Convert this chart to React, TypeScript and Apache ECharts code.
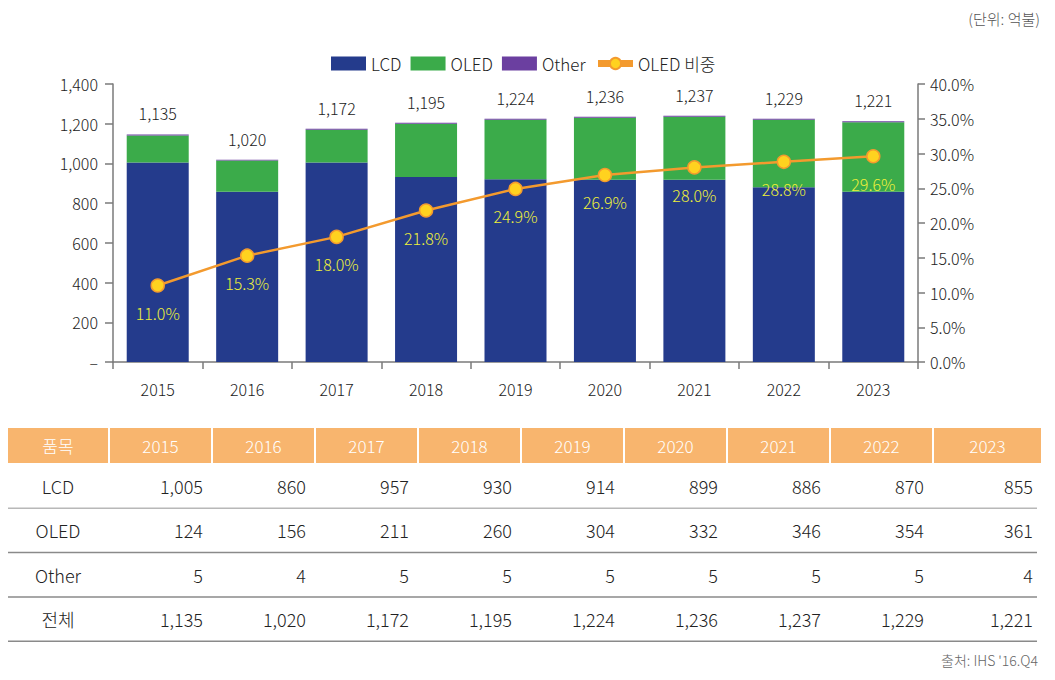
import React, { useEffect, useRef } from "react";
import * as echarts from "echarts";

const years = ["2015", "2016", "2017", "2018", "2019", "2020", "2021", "2022", "2023"];
// values as drawn by the bars in the picture
const lcdBar = [1005, 858, 1005, 932, 920, 918, 918, 880, 858];
const oledBar = [136, 157, 165, 268, 300, 312, 317, 340, 350];
const otherBar = [5, 4, 5, 5, 5, 5, 5, 5, 4];
// table values
const lcdTable = [1005, 860, 957, 930, 914, 899, 886, 870, 855];
const oledTable = [124, 156, 211, 260, 304, 332, 346, 354, 361];
const otherTable = [5, 4, 5, 5, 5, 5, 5, 5, 4];
const totalTable = [1135, 1020, 1172, 1195, 1224, 1236, 1237, 1229, 1221];
const oledShare = [11.0, 15.3, 18.0, 21.8, 24.9, 26.9, 28.0, 28.8, 29.6];
const rowNames = ["LCD", "OLED", "Other", "전체"];
const headerFirst = "품목";

const FONT = "'Noto Sans CJK KR', 'Noto Sans', sans-serif";
const FW = 300;
const fmt = (v: number) => v.toLocaleString("en-US");

function txt(x: number, y: number, text: string, fill: string, size: number, align: string) {
  return {
    type: "text",
    x,
    y,
    style: {
      text,
      fill,
      fontSize: size,
      fontFamily: FONT,
      fontWeight: FW,
      align,
      verticalAlign: "middle",
      textAlign: align,
      textVerticalAlign: "middle",
    },
  };
}

function buildTable() {
  const els: any[] = [];
  const x0 = 8;
  const firstW = 100;
  const colStart = 110;
  const colW = 103;
  const hy = 428;
  const hh = 35;
  const header = "#f8b56e";
  els.push({ type: "rect", shape: { x: x0, y: hy, width: firstW, height: hh }, style: { fill: header } });
  els.push(txt(x0 + firstW / 2, hy + hh / 2, headerFirst, "#fff", 17, "center"));
  years.forEach((y, i) => {
    const cx = colStart + i * colW;
    const w = i === years.length - 1 ? 107 : colW - 2;
    els.push({ type: "rect", shape: { x: cx, y: hy, width: w, height: hh }, style: { fill: header } });
    els.push(txt(cx + w / 2, hy + hh / 2, y, "#fff", 17, "center"));
  });
  const rows = [lcdTable, oledTable, otherTable, totalTable];
  const rowTop = 464;
  const rowH = 44.3;
  rows.forEach((vals, r) => {
    const cy = rowTop + r * rowH + rowH / 2;
    els.push(txt(x0 + firstW / 2, cy, rowNames[r], "#222", 18, "center"));
    vals.forEach((v, i) => {
      const right = colStart + i * colW + (i === years.length - 1 ? 107 : colW - 2) - 8;
      els.push(txt(right, cy, fmt(v), "#222", 18, "right"));
    });
    const ly = rowTop + (r + 1) * rowH;
    els.push({
      type: "line",
      shape: { x1: x0, y1: ly, x2: 1037, y2: ly },
      style: { stroke: r === 0 ? "#b8b8b8" : "#8a8a8a", lineWidth: 1.5 },
    });
  });
  els.push(txt(1038, 660, "출처: IHS '16.Q4", "#666", 14, "right"));
  els.push(txt(1040, 18, "(단위: 억불)", "#555", 15, "right"));
  return els;
}

export default function App() {
  const ref = useRef<HTMLDivElement>(null);
  useEffect(() => {
    if (!ref.current) return;
    const chart = echarts.init(ref.current, null, { renderer: "svg" });
    const axisColor = "#7a7a7a";
    chart.setOption({
      animation: false,
      backgroundColor: "#fff",
      textStyle: { fontFamily: FONT, fontWeight: FW },
      legend: {
        left: 326,
        top: 50,
        itemWidth: 35,
        itemHeight: 14,
        itemGap: 9,
        textStyle: { fontSize: 17, color: "#222", fontFamily: FONT, fontWeight: FW },
        data: [
          { name: "LCD", icon: "rect" },
          { name: "OLED", icon: "rect" },
          { name: "Other", icon: "rect" },
          { name: "OLED 비중", lineStyle: { width: 7, color: "#f39a2e" } },
        ],
      },
      grid: { left: 113, right: 137, top: 84, bottom: 318 },
      xAxis: {
        type: "category",
        data: years,
        axisLine: { lineStyle: { color: axisColor, width: 1.5 } },
        axisTick: { show: true, length: 7, lineStyle: { color: axisColor, width: 1.5 } },
        axisLabel: { fontSize: 16, color: "#222", margin: 19, fontFamily: FONT, fontWeight: FW },
      },
      yAxis: [
        {
          type: "value",
          min: 0,
          max: 1400,
          interval: 200,
          axisLine: { show: true, lineStyle: { color: axisColor, width: 1.5 } },
          axisTick: { show: true, length: 8, lineStyle: { color: axisColor, width: 1.5 } },
          splitLine: { show: false },
          axisLabel: {
            fontSize: 16,
            color: "#222",
            margin: 15,
            fontFamily: FONT,
            fontWeight: FW,
            formatter: (v: number) => (v === 0 ? "–" : fmt(v)),
          },
        },
        {
          type: "value",
          min: 0,
          max: 40,
          interval: 5,
          axisLine: { show: true, lineStyle: { color: axisColor, width: 1.5 } },
          axisTick: { show: true, length: 7, lineStyle: { color: axisColor, width: 1.5 } },
          splitLine: { show: false },
          axisLabel: {
            fontSize: 16,
            color: "#222",
            margin: 12,
            fontFamily: FONT,
            fontWeight: FW,
            formatter: (v: number) => v.toFixed(1) + "%",
          },
        },
      ],
      series: [
        {
          name: "LCD",
          type: "bar",
          stack: "total",
          barWidth: 62,
          data: lcdBar,
          itemStyle: { color: "#243b8c" },
        },
        {
          name: "OLED",
          type: "bar",
          stack: "total",
          barWidth: 62,
          data: oledBar,
          itemStyle: { color: "#3bab4a" },
        },
        {
          name: "Other",
          type: "bar",
          stack: "total",
          barWidth: 62,
          data: otherBar,
          itemStyle: { color: "#6b3fa0" },
          label: {
            show: true,
            position: "top",
            distance: 13,
            fontSize: 16,
            color: "#222",
            fontFamily: FONT,
            fontWeight: FW,
            formatter: (p: any) => fmt(totalTable[p.dataIndex]),
          },
        },
        {
          name: "OLED 비중",
          type: "line",
          yAxisIndex: 1,
          data: oledShare,
          symbol: "circle",
          symbolSize: 13,
          z: 10,
          lineStyle: { color: "#f39a2e", width: 2.5 },
          itemStyle: { color: "#ffd21f", borderColor: "#f39a2e", borderWidth: 1.5 },
          label: {
            show: true,
            position: "bottom",
            distance: 12,
            fontSize: 16,
            color: "#eef03a",
            fontFamily: FONT,
            fontWeight: FW,
            formatter: (p: any) => Number(p.value).toFixed(1) + "%",
          },
        },
      ],
      graphic: { elements: buildTable() },
    });
    return () => chart.dispose();
  }, []);
  return (
    <div
      ref={ref}
      style={{ position: "absolute", left: 0, top: 0, width: 1055, height: 680, background: "#fff" }}
    />
  );
}
